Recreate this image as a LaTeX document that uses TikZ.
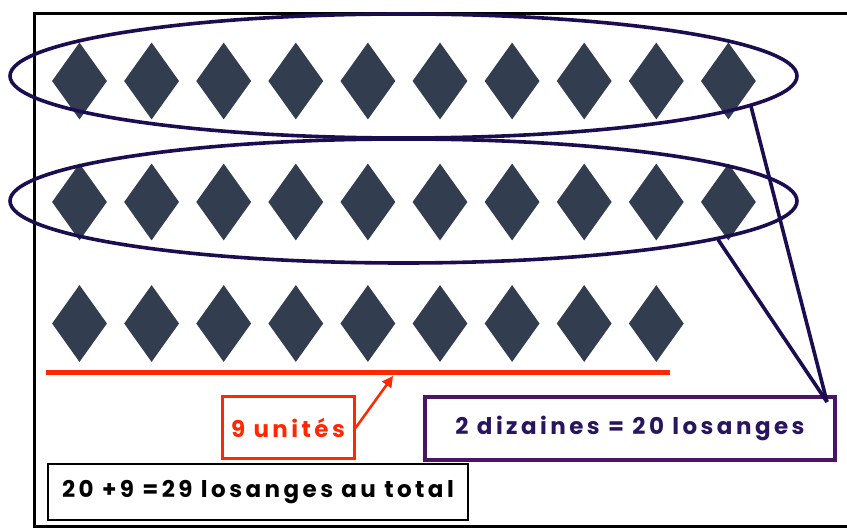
\documentclass[tikz,border=0pt]{standalone}
\usepackage{fontspec}
\newfontfamily\labfont{Poppins}[LetterSpace=15]
\usetikzlibrary{shapes.geometric,arrows.meta}
\definecolor{slate}{RGB}{50,62,80}
\definecolor{ringcol}{RGB}{28,12,80}
\definecolor{tenbox}{RGB}{75,20,100}
\definecolor{tentext}{RGB}{40,20,95}
\definecolor{unitred}{RGB}{255,40,0}
\begin{document}
\begin{tikzpicture}[x=1pt,y=-1pt,
  losange/.style={diamond, fill=slate, inner sep=0pt, minimum width=55pt, minimum height=77pt},
  ring/.style={ellipse, draw=ringcol, line width=3.6pt, minimum width=787pt, minimum height=124pt, inner sep=0pt},
  link/.style={draw=ringcol, line width=3.6pt},
  lab/.style={font=\labfont\bfseries\fontsize{23}{27}\selectfont, inner sep=0pt},
]
\useasboundingbox (0,0) rectangle (847,529);
\draw[line width=3pt] (860,14) -- (34,14) -- (34,526) -- (860,526);
% diamonds
\foreach \i in {1,...,10} {
  \node[losange] (a\i) at ({79.5+72.1*(\i-1)},81) {};
  \node[losange] (b\i) at ({79.5+72.1*(\i-1)},202) {};
}
\foreach \i in {1,...,9} {
  \node[losange] (c\i) at ({79.5+72.1*(\i-1)},323.5) {};
}
% rings
\node[ring] (e1) at (403.5,76) {};
\node[ring] (e2) at (403.5,201) {};
% red underline
\coordinate (ul1) at (46,373);
\coordinate (ul2) at (670,373);
\draw[unitred, line width=5pt] (ul1) -- (ul2);
% boxes
\node[draw=tenbox, line width=4pt, minimum width=410pt, minimum height=63pt, text=tentext, lab] (tens) at (630,428.5) {2 dizaines = 20 losanges};
\node[draw=unitred, line width=3pt, minimum width=132pt, minimum height=62pt, text=unitred, lab] (units) at (288,428) {9 unités};
\node[draw=black, line width=1.5pt, minimum width=420pt, minimum height=56pt, text=black, lab] (total) at (258,492) {20 +9 =29 losanges au total};
% connectors
\coordinate (dtip) at (827,402);
\draw[link] (e1.-5.8) -- (dtip);
\draw[link] (e2.-7.8) -- (dtip);
\coordinate (utip) at (393,376);
\draw[unitred, line width=2.5pt, -{Triangle[length=11pt,width=11pt]}] (units.east) -- (utip);
\end{tikzpicture}
\end{document}
